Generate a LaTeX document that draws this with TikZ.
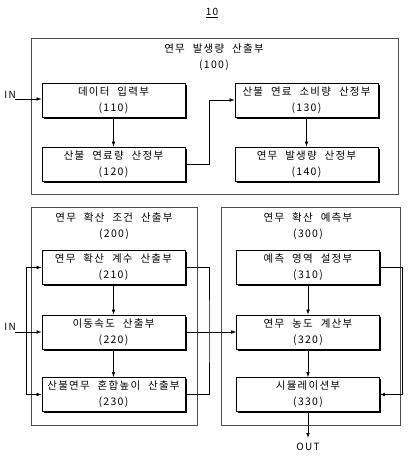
\documentclass[tikz,border=0pt]{standalone}
\usepackage{fontspec}
\setmainfont{Noto Sans CJK KR}[LetterSpace=12,WordSpace=2.2]
\usetikzlibrary{arrows.meta,shadows}
\tikzset{
  box/.style={draw=black, line width=0.8pt, fill=white, minimum width=143pt, minimum height=34pt,
    inner sep=0pt, align=center, font=\fontsize{10.5}{16}\selectfont,
    drop shadow={shadow xshift=1.8pt, shadow yshift=-1.8pt, fill=black, opacity=1}},
  grp/.style={draw=black!70, line width=0.8pt, inner sep=0pt},
  ttl/.style={align=center, font=\fontsize{10.5}{16}\selectfont, inner sep=0pt},
  arr/.style={-{Latex[length=5pt,width=3.6pt]}, line width=0.6pt},
  ln/.style={line width=0.6pt},
  lbl/.style={font=\fontsize{10}{12}\selectfont, inner sep=0pt}
}
\begin{document}
\begin{tikzpicture}[x=1pt,y=-1pt]
\useasboundingbox (0,0) rectangle (407,460);
% title
\node[lbl] (t10) at (212,13) {\underline{10}};
% group 100
\node[grp, minimum width=367pt, minimum height=156pt] (g100) at (214.5,116) {};
\node[ttl] (t100) at (214,57) {연무 발생량 산출부\\(100)};
\node[box] (b110) at (113.5,100) {데이터 입력부\\(110)};
\node[box] (b120) at (113.5,164) {산불 연료량 산정부\\(120)};
\node[box] (b130) at (306.5,100) {산불 연료 소비량 산정부\\(130)};
\node[box] (b140) at (306.5,164) {연무 발생량 산정부\\(140)};
\coordinate (in1) at (15,99);
\node[lbl, anchor=east] (lin1) at (16,95) {IN};
\draw[arr] (in1) -- (b110.west |- in1);
\draw[arr] (b110) -- (b120);
\draw[arr] (b120.east) -- ++(24,0) |- (b130.west);
\draw[arr] (b130) -- (b140);
% group 200
\node[grp, minimum width=166pt, minimum height=218pt] (g200) at (114,316) {};
\node[ttl] (t200) at (114,226) {연무 확산 조건 산출부\\(200)};
\node[box] (b210) at (113.5,267.5) {연무 확산 계수 산출부\\(210)};
\node[box] (b220) at (113.5,332) {이동속도 산출부\\(220)};
\node[box] (b230) at (113.5,394.5) {산불연무 혼합높이 산출부\\(230)};
% group 300
\node[grp, minimum width=179pt, minimum height=218pt] (g300) at (310.5,316) {};
\node[ttl] (t300) at (308,226) {연무 확산 예측부\\(300)};
\node[box] (b310) at (308,267.5) {예측 영역 설정부\\(310)};
\node[box] (b320) at (308,332) {연무 농도 계산부\\(320)};
\node[box] (b330) at (308,394.5) {시뮬레이션부\\(330)};
% connectors lower
\coordinate (in2) at (15,332);
\node[lbl, anchor=east] (lin2) at (16,327) {IN};
\coordinate (jL) at (26,332);
\draw[arr] (in2) -- (b220.west |- in2);
\draw[arr] (jL) |- (b210.west);
\draw[arr] (jL) |- (b230.west);
\draw[arr] (b210) -- (b220);
\draw[arr] (b220) -- (b230);
\draw[ln] (b210.east) -| (209,332) |- (b230.east);
\draw[arr] (b220.east) -- (b320.west);
\draw[arr] (b310) -- (b320);
\draw[arr] (b320) -- (b330);
\draw[arr] (b310.east) -- ++(22,0) |- (b330.east);
\coordinate (out) at (308,438);
\node[lbl, anchor=north] (lout) at (308,443) {OUT};
\draw[arr] (b330.south) -- (out);
\end{tikzpicture}
\end{document}
